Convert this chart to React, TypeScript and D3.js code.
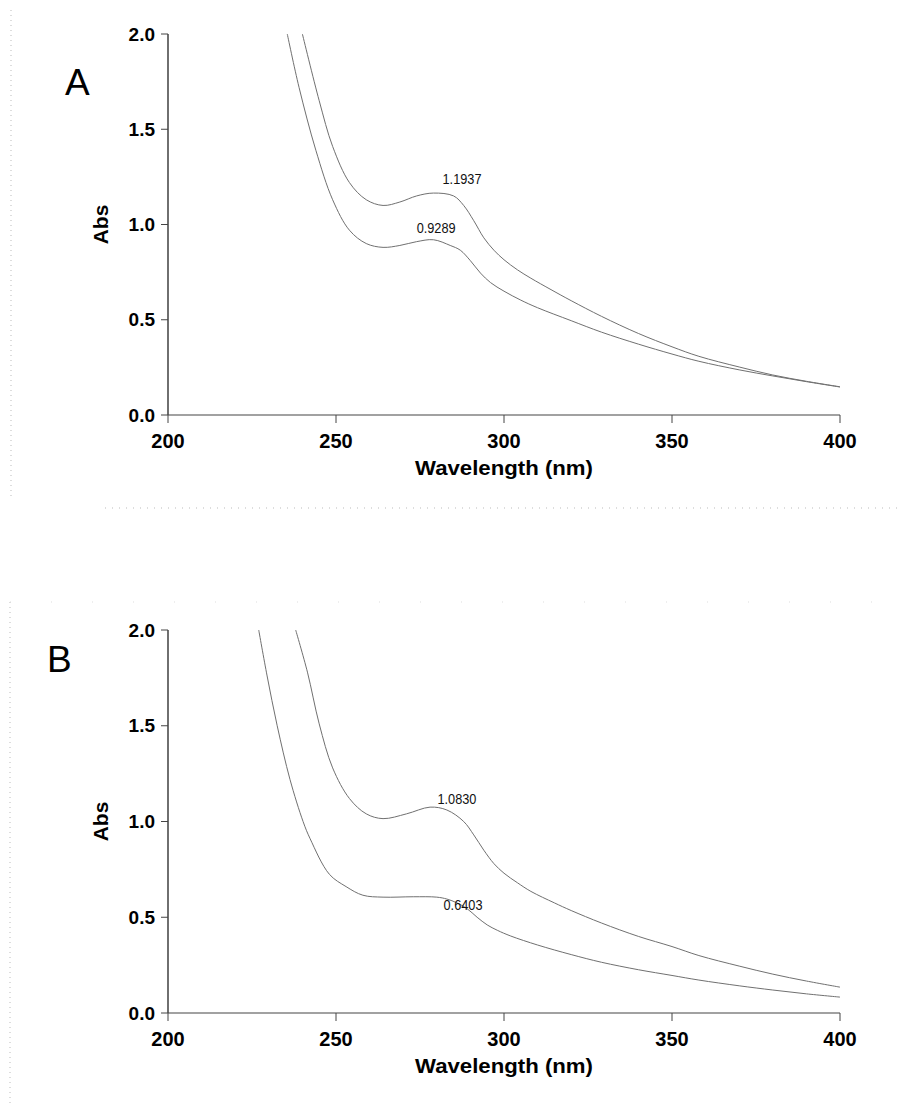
import React from "react";
import * as d3 from "d3";

// ---- data (wavelength nm, absorbance) ----
const xTicks = [200, 250, 300, 350, 400];
const yTicks = [0, 0.5, 1.0, 1.5, 2.0];

const aUpperWl = [240, 245, 249, 254, 259, 264, 269, 274, 279, 285, 288, 291, 294, 297, 300, 304, 308, 314, 320, 329, 340, 350, 358, 370, 380, 390, 400];
const aUpperAbs = [2.0, 1.65, 1.41, 1.22, 1.13, 1.10, 1.118, 1.15, 1.165, 1.15, 1.10, 1.02, 0.93, 0.865, 0.815, 0.762, 0.718, 0.658, 0.60, 0.518, 0.428, 0.358, 0.308, 0.252, 0.21, 0.177, 0.148];

const aLowerWl = [235.5, 239, 244, 249, 254, 259, 264, 269, 274, 279, 284, 287, 290, 293, 296, 300, 305, 310, 320, 329, 340, 350, 358, 370, 380, 390, 400];
const aLowerAbs = [2.0, 1.72, 1.39, 1.13, 0.97, 0.90, 0.88, 0.89, 0.91, 0.92, 0.89, 0.865, 0.81, 0.745, 0.695, 0.65, 0.603, 0.563, 0.495, 0.435, 0.372, 0.32, 0.282, 0.237, 0.205, 0.175, 0.147];

const bUpperWl = [238, 241.5, 245, 249, 254, 259, 264, 271, 278, 283, 288, 291, 294, 297, 300, 304, 308, 315, 320, 329, 340, 350, 358, 370, 380, 390, 400];
const bUpperAbs = [2.0, 1.78, 1.51, 1.28, 1.12, 1.04, 1.015, 1.04, 1.075, 1.06, 1.0, 0.93, 0.85, 0.78, 0.73, 0.68, 0.635, 0.575, 0.535, 0.47, 0.40, 0.347, 0.30, 0.245, 0.203, 0.167, 0.135];

const bLowerWl = [227, 229.5, 232.5, 236.3, 240.2, 242.3, 248, 253, 258, 264, 273, 280, 283, 286, 289, 292, 295, 298, 302, 310, 320, 329, 340, 350, 358, 370, 380, 390, 400];
const bLowerAbs = [2.0, 1.76, 1.50, 1.22, 1.00, 0.91, 0.725, 0.66, 0.615, 0.605, 0.607, 0.605, 0.595, 0.575, 0.545, 0.50, 0.46, 0.432, 0.402, 0.355, 0.305, 0.265, 0.226, 0.196, 0.172, 0.142, 0.12, 0.10, 0.083];

const panels = [
  {
    letter: "A",
    letterX: 65, letterY: 95,
    y0: 415, y2: 34,
    series: [
      { wl: aUpperWl, abs: aUpperAbs },
      { wl: aLowerWl, abs: aLowerAbs },
    ],
    labels: [
      { text: "1.1937", wl: 287.5, abs: 1.1937, dy: -3.5 },
      { text: "0.9289", wl: 279.8, abs: 0.9289, dy: -5 },
    ],
  },
  {
    letter: "B",
    letterX: 47, letterY: 672,
    y0: 1013, y2: 630,
    series: [
      { wl: bUpperWl, abs: bUpperAbs },
      { wl: bLowerWl, abs: bLowerAbs },
    ],
    labels: [
      { text: "1.0830", wl: 286, abs: 1.0830, dy: -2 },
      { text: "0.6403", wl: 287.8, abs: 0.6403, dy: 20 },
    ],
  },
];

const FONT = "'Liberation Sans', Arial, Helvetica, sans-serif";

function Panel({ p }: { p: typeof panels[number] }) {
  const x = d3.scaleLinear().domain([200, 400]).range([168, 840]);
  const y = d3.scaleLinear().domain([0, 2]).range([p.y0, p.y2]);
  const line = d3
    .line<[number, number]>()
    .x((d) => x(d[0]))
    .y((d) => y(d[1]))
    .curve(d3.curveCatmullRom.alpha(0.5));
  const fmt = d3.format(".1f");
  return (
    <g>
      <text x={p.letterX} y={p.letterY} fontFamily={FONT} fontSize={37} fill="#000">
        {p.letter}
      </text>
      {p.series.map((s, i) => (
        <path
          key={i}
          d={line(s.wl.map((w, j) => [w, s.abs[j]] as [number, number])) || ""}
          fill="none"
          stroke="#707070"
          strokeWidth={1}
        />
      ))}
      {p.labels.map((l, i) => (
        <text
          key={i}
          x={x(l.wl)}
          y={y(l.abs) + l.dy}
          textAnchor="middle"
          fontFamily={FONT}
          fontSize={14}
          textLength={39}
          lengthAdjust="spacingAndGlyphs"
          fill="#111"
        >
          {l.text}
        </text>
      ))}
      {/* axes */}
      <line x1={x(200)} x2={x(200)} y1={y(2)} y2={y(0)} stroke="#222" strokeWidth={1.3} />
      <line x1={x(200)} x2={x(400)} y1={y(0)} y2={y(0)} stroke="#444" strokeWidth={1.2} />
      {yTicks.map((t) => (
        <g key={t}>
          <line x1={x(200) - 7} x2={x(200)} y1={y(t)} y2={y(t)} stroke="#444" strokeWidth={1} />
          <text
            x={x(200) - 13}
            y={y(t)}
            dy="0.35em"
            textAnchor="end"
            fontFamily={FONT}
            fontWeight="bold"
            fontSize={19}
            fill="#000"
          >
            {fmt(t)}
          </text>
        </g>
      ))}
      {xTicks.map((t) => (
        <g key={t}>
          <line x1={x(t)} x2={x(t)} y1={y(0)} y2={y(0) + 8} stroke="#444" strokeWidth={1} />
          <text
            x={x(t)}
            y={y(0) + 33}
            textAnchor="middle"
            fontFamily={FONT}
            fontWeight="bold"
            fontSize={20}
            fill="#000"
          >
            {t}
          </text>
        </g>
      ))}
      <text
        x={(x(200) + x(400)) / 2}
        y={y(0) + 60}
        textAnchor="middle"
        fontFamily={FONT}
        fontWeight="bold"
        fontSize={21}
        textLength={178}
        lengthAdjust="spacingAndGlyphs"
        fill="#000"
      >
        Wavelength (nm)
      </text>
      <text
        transform={`translate(${108},${y(1)}) rotate(-90)`}
        textAnchor="middle"
        fontFamily={FONT}
        fontWeight="bold"
        fontSize={21}
        fill="#000"
      >
        Abs
      </text>
    </g>
  );
}

export default function App() {
  return (
    <svg
      width={897}
      height={1113}
      style={{ position: "absolute", left: 0, top: 0, background: "#fff" }}
    >
      <rect x={0} y={0} width={897} height={1113} fill="#fff" />
      {/* faint scan frame lines */}
      <line x1={11} x2={11} y1={10} y2={500} stroke="#bbb" strokeWidth={1} strokeDasharray="1 4" />
      <line x1={105} x2={897} y1={508} y2={508} stroke="#bbb" strokeWidth={1} strokeDasharray="1 6" />
      <line x1={10} x2={10} y1={602} y2={1105} stroke="#bbb" strokeWidth={1} strokeDasharray="1 4" />
      <line x1={10} x2={897} y1={602} y2={602} stroke="#ddd" strokeWidth={1} strokeDasharray="1 40" />
      {panels.map((p) => (
        <Panel key={p.letter} p={p} />
      ))}
    </svg>
  );
}
